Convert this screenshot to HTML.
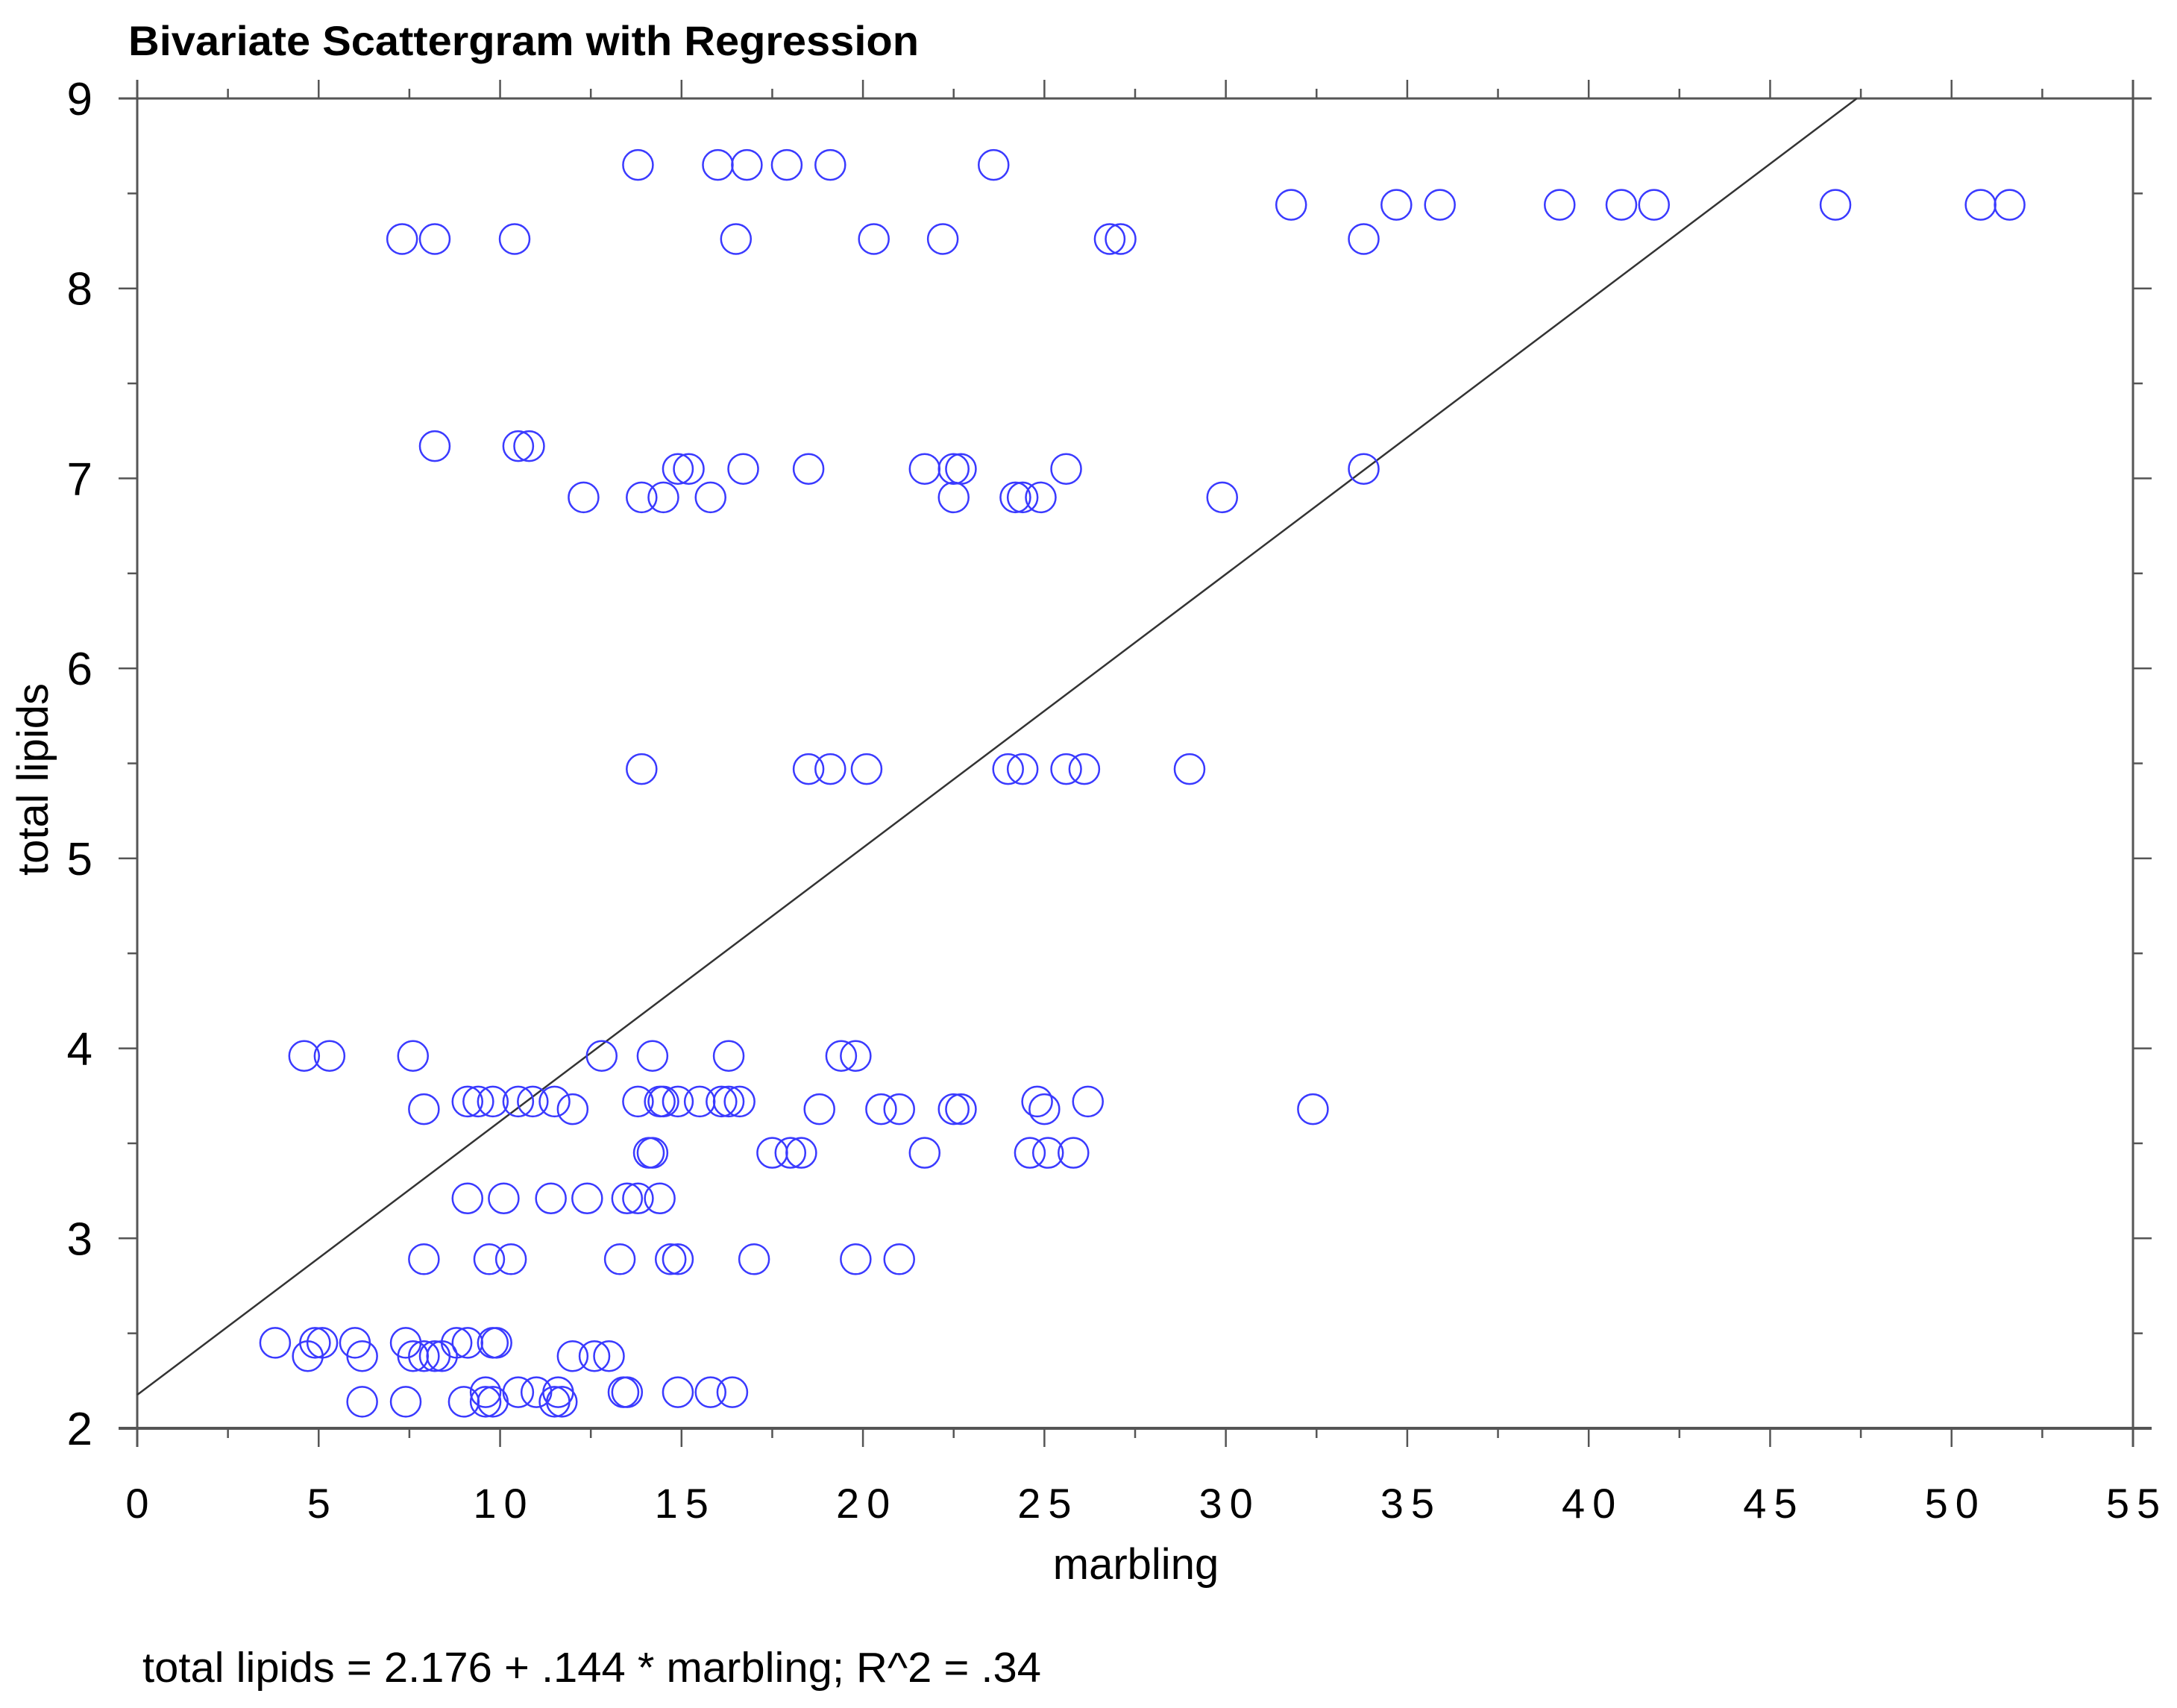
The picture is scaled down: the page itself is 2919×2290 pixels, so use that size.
<!DOCTYPE html>
<html><head><meta charset="utf-8"><style>
html,body{margin:0;padding:0;background:#fff;}
svg{display:block;font-family:"Liberation Sans",Arial,sans-serif;}
</style></head><body>
<svg id="chart" width="2919" height="2290" viewBox="0 0 2919 2290" xmlns="http://www.w3.org/2000/svg">
<rect width="2919" height="2290" fill="#fff"/>
<text x="172" y="74" font-size="56" font-weight="bold" fill="#000" textLength="1060" lengthAdjust="spacingAndGlyphs">Bivariate Scattergram with Regression</text>
<g id="axes"></g>
<g id="marks"></g>
<text x="1523" y="2117" font-size="58" text-anchor="middle" fill="#000">marbling</text>
<text transform="translate(64,1045) rotate(-90)" font-size="58" text-anchor="middle" fill="#000">total lipids</text>
<text x="191" y="2255" font-size="57" fill="#000" textLength="1205" lengthAdjust="spacingAndGlyphs">total lipids = 2.176 + .144 * marbling; R^2 = .34</text>
</svg>
<script>
const xTicks = [0,5,10,15,20,25,30,35,40,45,50,55];
const yTicks = [2,3,4,5,6,7,8,9];
const regIntercept = 2.176;
const regSlope = 0.144;
const rowLipids = [8.65,8.44,8.26,7.17,7.05,6.90,5.47,3.96,3.72,3.68,3.45,3.21,2.89,2.45,2.38,2.19,2.14];
const rowMarbling = [
[13.8,16.0,16.8,17.9,19.1,23.6],
[31.8,34.7,35.9,39.2,40.9,41.8,46.8,50.8,51.6],
[7.3,8.2,10.4,16.5,20.3,22.2,26.8,27.1,33.8],
[8.2,10.5,10.8],
[14.9,15.2,16.7,18.5,21.7,22.5,22.7,25.6,33.8],
[12.3,13.9,14.5,15.8,22.5,24.2,24.4,24.9,29.9],
[13.9,18.5,19.1,20.1,24.0,24.4,25.6,26.1,29.0],
[4.6,5.3,7.6,12.8,14.2,16.3,19.4,19.8],
[9.1,9.4,9.8,10.5,10.9,11.5,13.8,14.4,14.5,14.9,15.5,16.1,16.3,16.6,24.8,26.2],
[7.9,12.0,18.8,20.5,21.0,22.5,22.7,25.0,32.4],
[14.1,14.2,17.5,18.0,18.3,21.7,24.6,25.1,25.8],
[9.1,10.1,11.4,12.4,13.5,13.8,14.4],
[7.9,9.7,10.3,13.3,14.7,14.9,17.0,19.8,21.0],
[3.8,4.9,5.1,6.0,7.4,8.8,9.1,9.8,9.9],
[4.7,6.2,7.6,7.9,8.2,8.4,12.0,12.6,13.0],
[9.6,10.5,11.0,11.6,13.4,13.5,14.9,15.8,16.4],
[6.2,7.4,9.0,9.6,9.8,11.5,11.7]
];
const L=184,R=2860,T=132,B=1915;
const xMin=0,xMax=55,yMin=2,yMax=9;
function sx(v){return L+(v-xMin)/(xMax-xMin)*(R-L);}
function sy(v){return B-(v-yMin)/(yMax-yMin)*(B-T);}
const NS="http://www.w3.org/2000/svg";
function mk(tag,attrs,parent){const e=document.createElementNS(NS,tag);for(const k in attrs)e.setAttribute(k,attrs[k]);parent.appendChild(e);return e;}
const axes=document.getElementById('axes');
const ac="#555";
mk('line',{x1:L,y1:T-25,x2:L,y2:B+25,stroke:ac,'stroke-width':3},axes);
mk('line',{x1:R,y1:T-25,x2:R,y2:B+25,stroke:ac,'stroke-width':3},axes);
mk('line',{x1:L-25,y1:T,x2:R+25,y2:T,stroke:ac,'stroke-width':3},axes);
mk('line',{x1:L-25,y1:B,x2:R+25,y2:B,stroke:ac,'stroke-width':4},axes);
for(let i=0;i<xTicks.length;i++){
  const x=sx(xTicks[i]);
  mk('line',{x1:x,y1:B,x2:x,y2:B+25,stroke:ac,'stroke-width':2.5},axes);
  mk('line',{x1:x,y1:T,x2:x,y2:T-25,stroke:ac,'stroke-width':2.5},axes);
  if(i<xTicks.length-1){
    const xm=sx(xTicks[i]+2.5);
    mk('line',{x1:xm,y1:B,x2:xm,y2:B+13,stroke:ac,'stroke-width':2.5},axes);
    mk('line',{x1:xm,y1:T,x2:xm,y2:T-13,stroke:ac,'stroke-width':2.5},axes);
  }
  const t=mk('text',{x:x+5,y:2035,'font-size':56,'text-anchor':'middle','letter-spacing':'10',fill:'#000'},axes);
  t.textContent=String(xTicks[i]);
  
  
}
for(let i=0;i<yTicks.length;i++){
  const y=sy(yTicks[i]);
  mk('line',{x1:L,y1:y,x2:L-25,y2:y,stroke:ac,'stroke-width':2.5},axes);
  mk('line',{x1:R,y1:y,x2:R+25,y2:y,stroke:ac,'stroke-width':2.5},axes);
  if(i<yTicks.length-1){
    const ym=sy(yTicks[i]+0.5);
    mk('line',{x1:L,y1:ym,x2:L-13,y2:ym,stroke:ac,'stroke-width':2.5},axes);
    mk('line',{x1:R,y1:ym,x2:R+13,y2:ym,stroke:ac,'stroke-width':2.5},axes);
  }
  const t=mk('text',{x:124,y:y+22,'font-size':62,'text-anchor':'end',fill:'#000'},axes);
  t.textContent=String(yTicks[i]);
  
  
}
const xEnd=(yMax-regIntercept)/regSlope;
const rl=mk('line',{x1:sx(0),y1:sy(regIntercept),x2:sx(xEnd),y2:sy(yMax),stroke:'#333','stroke-width':2.5},axes);


const marks=document.getElementById('marks');
for(let r=0;r<rowLipids.length;r++){
  for(let j=0;j<rowMarbling[r].length;j++){
    const c=mk('circle',{cx:sx(rowMarbling[r][j]),cy:sy(rowLipids[r]),r:20,fill:'none',stroke:'#3a3aff','stroke-width':2.5},marks);
    
    
  }
}
</script>
</body></html>
